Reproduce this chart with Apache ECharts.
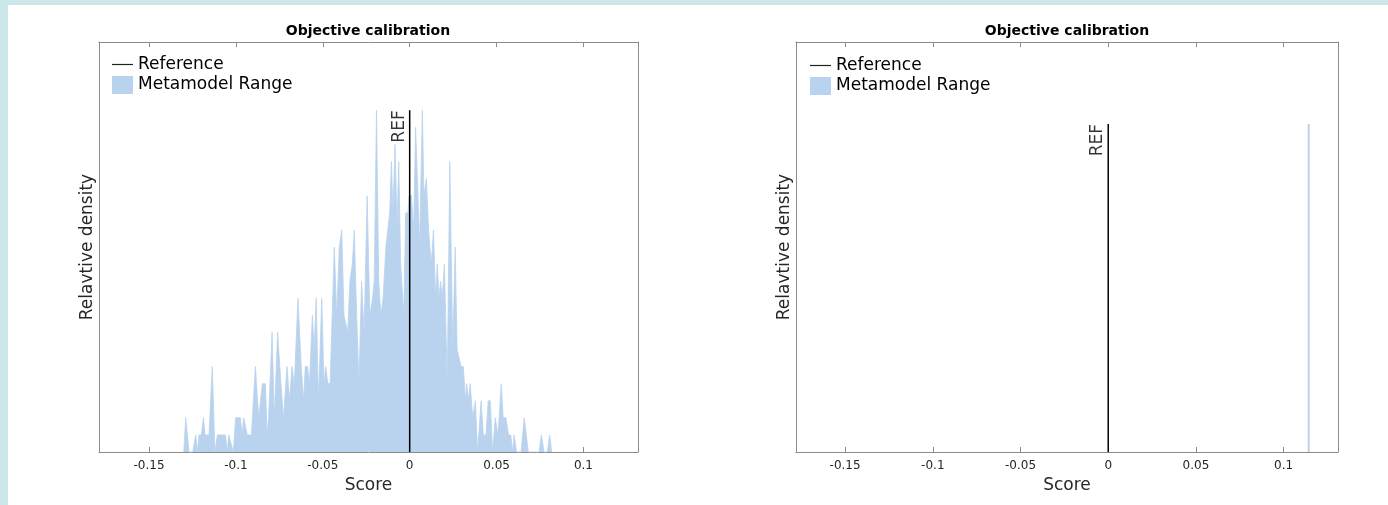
<!DOCTYPE html>
<html lang="en">

<head>
    <meta charset="UTF-8">
    <title>Objective calibration</title>
    <script src="https://cdn.jsdelivr.net/npm/echarts@6/dist/echarts.min.js"></script>
</head>

<style>
    html, body {
        margin: 0;
        padding: 0;
    }

    .frame {
        position: absolute;
        left: 0;
        top: 0;
        width: 1388px;
        height: 505px;
        box-sizing: border-box;
        border-left: 8px solid #cbe7ea;
        border-top: 5px solid #cbe7ea;
        background: #fff;
    }

    #main {
        position: absolute;
        left: 0;
        top: 0;
        width: 1388px;
        height: 505px;
    }
</style>

<body>
    <div class="frame"></div>
    <div id="main"></div>
</body>

<script>
    // left panel: metamodel histogram (score, count)
    var leftScores = [-0.1300, -0.1289, -0.1270, -0.1249, -0.1231, -0.1222, -0.1212, -0.1199, -0.1187, -0.1178,
        -0.1155, -0.1136, -0.1121, -0.1107, -0.1060, -0.1050, -0.1041, -0.1031, -0.1015, -0.1002,
        -0.0974, -0.0964, -0.0955, -0.0945, -0.0935, -0.0911, -0.0888, -0.0869, -0.0848, -0.0830,
        -0.0821, -0.0812, -0.0802, -0.0792, -0.0779, -0.0760, -0.0741, -0.0726, -0.0706, -0.0691,
        -0.0678, -0.0664, -0.0643, -0.0624, -0.0611, -0.0601, -0.0588, -0.0577, -0.0560, -0.0550,
        -0.0538, -0.0525, -0.0506, -0.0493, -0.0483, -0.0471, -0.0458, -0.0448, -0.0434, -0.0420,
        -0.0405, -0.0391, -0.0378, -0.0367, -0.0357, -0.0344, -0.0330, -0.0319, -0.0305, -0.0292,
        -0.0277, -0.0262, -0.0245, -0.0229, -0.0214, -0.0204, -0.0191, -0.0178, -0.0166, -0.0153,
        -0.0137, -0.0128, -0.0115, -0.0105, -0.0096, -0.0084, -0.0073, -0.0063, -0.0052, -0.0042,
        -0.0034, -0.0023, -0.0010, -0.0004, 0.0010, 0.0023, 0.0034, 0.0048, 0.0057, 0.0073,
        0.0082, 0.0096, 0.0109, 0.0124, 0.0137, 0.0149, 0.0159, 0.0168, 0.0178, 0.0187,
        0.0200, 0.0216, 0.0231, 0.0248, 0.0262, 0.0273, 0.0282, 0.0296, 0.0309, 0.0321,
        0.0328, 0.0338, 0.0348, 0.0363, 0.0378, 0.0391, 0.0411, 0.0424, 0.0439, 0.0452,
        0.0464, 0.0477, 0.0493, 0.0506, 0.0515, 0.0527, 0.0538, 0.0554, 0.0569, 0.0582,
        0.0592, 0.0601, 0.0615, 0.0641, 0.0659, 0.0683, 0.0745, 0.0758, 0.0773, 0.0792,
        0.0806, 0.0817];
    var leftDensity = [0, 2, 0, 0, 1, 0, 1, 1, 2, 1,
        1, 5, 0, 1, 1, 0, 1, 1, 0, 2,
        2, 1, 2, 2, 1, 1, 5, 2, 4, 4,
        1, 2, 2, 7, 2, 7, 4, 2, 5, 3,
        5, 4, 9, 5, 3, 5, 5, 4, 8, 6,
        9, 3, 9, 4, 5, 4, 4, 4, 12, 8,
        12, 13, 8, 8, 7, 10, 11, 13, 8, 4,
        10, 7, 15, 8, 9, 10, 20, 10, 8, 9,
        12, 12, 14, 17, 14, 18, 13, 17, 11, 11,
        8, 14, 14, 15, 15, 13, 19, 15, 12, 20,
        15, 16, 13, 11, 13, 9, 11, 9, 10, 9,
        11, 4, 17, 6, 12, 6, 6, 5, 5, 3,
        4, 3, 4, 2, 3, 0, 3, 1, 1, 3,
        3, 0, 2, 1, 2, 4, 2, 2, 1, 1,
        0, 1, 0, 0, 2, 0, 0, 1, 0, 0,
        1, 0];

    // right panel: single spike
    var rightScores = [0.1143, 0.1143];
    var rightDensity = [0, 1];

    var refScore = 0;
    var leftPeak = 20;
    var rightPeak = 1;
    var leftYMax = 24;
    var rightYMax = 1.25;

    var tickValues = [-0.15, -0.1, -0.05, 0, 0.05, 0.1];

    var fillColor = '#b9d3ee';
    var axisColor = '#8c8c8c';
    var font = 'DejaVu Sans';

    function pairs(xs, ys) {
        return xs.map(function (x, i) { return [x, ys[i]]; });
    }

    function fmt(v) {
        return parseFloat(v.toFixed(2)).toString();
    }

    function xAxes(grid, min, max) {
        return [{
            type: 'value', gridIndex: grid, min: min, max: max, position: 'bottom',
            axisLine: { show: true, onZero: false, lineStyle: { color: axisColor, width: 1 } },
            axisTick: { show: true, inside: true, length: 5, customValues: tickValues, lineStyle: { color: axisColor } },
            axisLabel: { customValues: tickValues, formatter: fmt, fontSize: 12, color: '#262626', margin: 8, fontFamily: font },
            splitLine: { show: false },
            name: 'Score', nameLocation: 'middle', nameGap: 24,
            nameTextStyle: { fontSize: 17, color: '#262626', fontFamily: font }
        }, {
            type: 'value', gridIndex: grid, min: min, max: max, position: 'top',
            axisLine: { show: true, onZero: false, lineStyle: { color: axisColor, width: 1 } },
            axisTick: { show: true, inside: true, length: 5, customValues: tickValues, lineStyle: { color: axisColor } },
            axisLabel: { show: false },
            splitLine: { show: false }
        }];
    }

    function yAxes(grid, max) {
        return [{
            type: 'value', gridIndex: grid, min: 0, max: max, position: 'left',
            axisLine: { show: true, onZero: false, lineStyle: { color: axisColor, width: 1 } },
            axisTick: { show: false },
            axisLabel: { show: false },
            splitLine: { show: false },
            name: 'Relavtive density', nameLocation: 'middle', nameGap: 3,
            nameTextStyle: { fontSize: 17, color: '#262626', fontFamily: font }
        }, {
            type: 'value', gridIndex: grid, min: 0, max: max, position: 'right',
            axisLine: { show: true, onZero: false, lineStyle: { color: axisColor, width: 1 } },
            axisTick: { show: false },
            axisLabel: { show: false },
            splitLine: { show: false }
        }];
    }

    function panelSeries(grid, xs, ys, peak, lineWidth) {
        var xi = grid * 2, yi = grid * 2;
        return [{
            name: 'Metamodel Range',
            type: 'line',
            xAxisIndex: xi, yAxisIndex: yi,
            data: pairs(xs, ys),
            symbol: 'none',
            lineStyle: { color: fillColor, width: lineWidth },
            itemStyle: { color: fillColor },
            areaStyle: { color: fillColor, opacity: 1 },
            z: 2
        }, {
            name: 'Reference',
            type: 'line',
            xAxisIndex: xi, yAxisIndex: yi,
            data: [[refScore, 0], [refScore, peak]],
            symbol: 'none',
            lineStyle: { color: '#000', width: 1.5 },
            itemStyle: { color: '#000' },
            z: 3
        }, {
            name: 'REF',
            type: 'scatter',
            xAxisIndex: xi, yAxisIndex: yi,
            data: [[refScore, peak]],
            symbolSize: 0,
            label: {
                show: true, formatter: 'REF', position: [-2, 0], rotate: 90,
                align: 'right', verticalAlign: 'bottom',
                fontSize: 17, color: '#000', fontFamily: font
            },
            z: 4
        }];
    }

    function legend(left, top) {
        return {
            left: left, top: top, orient: 'vertical',
            itemWidth: 21, itemHeight: 18, itemGap: 3,
            selectedMode: false,
            textStyle: { fontSize: 17, color: '#000', fontFamily: font },
            data: [
                { name: 'Reference', icon: 'path://M0,0H21V1.2H0Z', itemStyle: { color: '#222' } },
                { name: 'Metamodel Range', icon: 'rect' }
            ]
        };
    }

    var myChart = echarts.init(document.getElementById('main'));

    var option = {
        animation: false,
        grid: [
            { left: 99, top: 42, width: 539, height: 410 },
            { left: 796, top: 42, width: 542, height: 410 }
        ],
        xAxis: xAxes(0, -0.1788, 0.1314).concat(xAxes(1, -0.178, 0.131)),
        yAxis: yAxes(0, leftYMax).concat(yAxes(1, rightYMax)),
        legend: [legend(107, 51), legend(805, 52)],
        graphic: [
            { type: 'text', x: 368, y: 31, style: { text: 'Objective calibration', font: 'bold 14px "DejaVu Sans"', fill: '#000', textAlign: 'center', textVerticalAlign: 'middle' } },
            { type: 'text', x: 1067, y: 31, style: { text: 'Objective calibration', font: 'bold 14px "DejaVu Sans"', fill: '#000', textAlign: 'center', textVerticalAlign: 'middle' } }
        ],
        series: panelSeries(0, leftScores, leftDensity, leftPeak, 0.8)
            .concat(panelSeries(1, rightScores, rightDensity, rightPeak, 2))
    };

    myChart.setOption(option);
</script>

</html>
